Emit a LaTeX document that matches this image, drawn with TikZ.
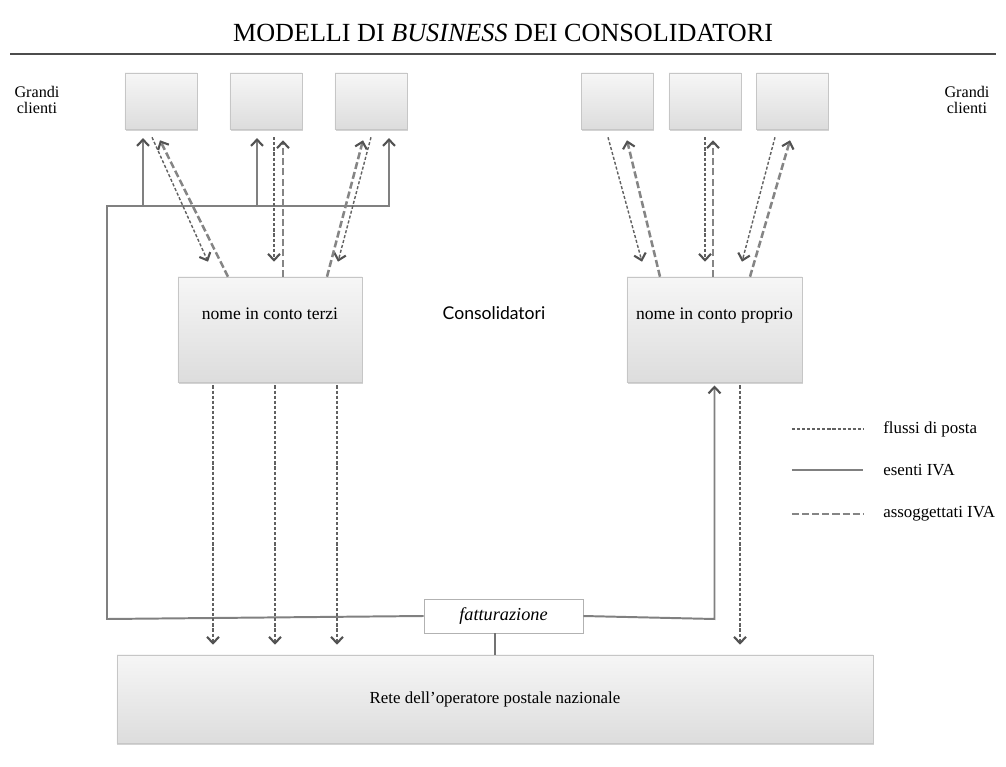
\documentclass[tikz,border=0pt]{standalone}
\usepackage{fontspec}
\setmainfont{Liberation Serif}
\setsansfont{Lato}
\usetikzlibrary{arrows.meta, positioning, calc, shadows}

\begin{document}
\begin{tikzpicture}[
  x=0.025cm, y=-0.025cm,
  client/.style={rectangle, draw=gray!45, top color=gray!7, bottom color=gray!27,
                 minimum width=1.8cm, minimum height=1.4cm, inner sep=0pt,
                 drop shadow={shadow xshift=0.4pt, shadow yshift=-1.2pt, opacity=0.35}},
  consbox/.style={client, minimum height=2.625cm},
  fattbox/.style={rectangle, draw=gray!60, fill=white, minimum width=3.975cm,
                  minimum height=0.85cm, font=\fontsize{13}{15}\selectfont\itshape},
  boxtext/.style={font=\fontsize{12.5}{15}\selectfont, anchor=base},
  sidetext/.style={font=\fontsize{11.5}{11}\selectfont, align=center},
  legtext/.style={font=\fontsize{12}{14}\selectfont, anchor=west, inner sep=0pt},
  flussi/.style={draw=black!62, line width=1pt, dash pattern=on 2.2pt off 1.4pt},
  esenti/.style={draw=black!50, line width=1.4pt},
  assog/.style={draw=black!48, line width=1.8pt, dash pattern=on 5pt off 2.2pt},
  arr/.style={-{Straight Barb[length=4.5pt,width=8.5pt,line width=1.5pt,color=black!68]}}
]
  \useasboundingbox (0,0) rectangle (1006,767);

  % title and rule
  \node[font=\fontsize{18.6}{20}\selectfont] (title) at (503,33)
    {MODELLI DI \textit{BUSINESS} DEI CONSOLIDATORI};
  \draw[black!70, line width=1.2pt] (10,54) -- (996,54);

  % clients
  \node[sidetext] (cleft) at (37,100) {Grandi\\clienti};
  \node[sidetext] (cright) at (967,100) {Grandi\\clienti};
  \node[client] (gl1) at (161,101) {};
  \node[client] (gl2) at (266,101) {};
  \node[client] (gl3) at (371,101) {};
  \node[client] (gr1) at (617.5,101) {};
  \node[client] (gr2) at (705,101) {};
  \node[client] (gr3) at (792.5,101) {};

  % consolidators
  \node[consbox, minimum width=4.6cm] (terzi) at (270,329.5) {};
  \node[boxtext] (terzitxt) at ($(terzi.north)+(0,43)$) {nome in conto terzi};
  \node[consbox, minimum width=4.375cm] (proprio) at (714.5,329.5) {};
  \node[boxtext] (propriotxt) at ($(proprio.north)+(0,43)$) {nome in conto proprio};
  \node[font=\sffamily\fontsize{12.5}{15}\selectfont, anchor=base] (cons) at (494,320) {Consolidatori};

  % postal network and billing
  \node[client, minimum width=18.9cm, minimum height=2.2cm, font=\fontsize{12}{14}\selectfont]
    (rete) at (495,699) {Rete dell'operatore postale nazionale};
  \node[fattbox] (fatt) at (503.5,616) {fatturazione};
  \draw[black!55, line width=0.9pt] (rete.north) -- (rete.north |- fatt.south);

  % esenti IVA
  \coordinate (lc) at (107,619);
  \coordinate (lb) at (107,206);
  \coordinate (b1) at (143,206);
  \coordinate (b2) at (257,206);
  \coordinate (b3) at (389,206);
  \draw[esenti, arr, shorten >=0.22cm] (fatt.west) -- (lc) -- (lb) -- (b3) -- (b3 |- gl3.south);
  \draw[esenti, arr, shorten >=0.22cm] (b1) -- (b1 |- gl1.south);
  \draw[esenti, arr, shorten >=0.22cm] (b2) -- (b2 |- gl2.south);
  \draw[esenti, arr, shorten >=0.08cm] (fatt.east) -- (proprio.south |- 0,619) -- (proprio.south);

  % flussi di posta / assoggettati IVA, left side
  \draw[flussi, arr] ($(gl1.south)+(-9,8)$) -- ($(terzi.north)+(-62,-15)$);
  \draw[assog, arr] ($(terzi.north)+(-42,0)$) -- ($(gl1.south)+(-1,11)$);
  \draw[flussi, arr] ($(gl2.south)+(8,8)$) -- ($(terzi.north)+(4,-15)$);
  \draw[assog, arr] ($(terzi.north)+(13,0)$) -- ($(gl2.south)+(17,11)$);
  \draw[flussi, arr] ($(gl3.south)+(0,8)$) -- ($(terzi.north)+(68,-15)$);
  \draw[assog, arr] ($(terzi.north)+(57,0)$) -- ($(gl3.south)+(-8,11)$);

  % flussi di posta / assoggettati IVA, right side
  \draw[flussi, arr] ($(gr1.south)+(-9.5,8)$) -- ($(proprio.north)+(-72.5,-15)$);
  \draw[assog, arr] ($(proprio.north)+(-54.5,0)$) -- ($(gr1.south)+(9.5,11)$);
  \draw[flussi, arr] ($(gr2.south)+(0,8)$) -- ($(proprio.north)+(-9.5,-15)$);
  \draw[assog, arr] ($(proprio.north)+(-1.5,0)$) -- ($(gr2.south)+(8,11)$);
  \draw[flussi, arr] ($(gr3.south)+(-17.5,8)$) -- ($(proprio.north)+(27.5,-15)$);
  \draw[assog, arr] ($(proprio.north)+(35.5,0)$) -- ($(gr3.south)+(-2.5,11)$);

  % mail down to the network
  \coordinate (d1) at ($(terzi.south)+(-57,0)$);
  \coordinate (d2) at ($(terzi.south)+(5,0)$);
  \coordinate (d3) at ($(terzi.south)+(67,0)$);
  \coordinate (d4) at ($(proprio.south)+(25.5,0)$);
  \draw[flussi, arr, shorten <=0.08cm, shorten >=0.25cm] (d1) -- (d1 |- rete.north);
  \draw[flussi, arr, shorten <=0.08cm, shorten >=0.25cm] (d2) -- (d2 |- rete.north);
  \draw[flussi, arr, shorten <=0.08cm, shorten >=0.25cm] (d3) -- (d3 |- rete.north);
  \draw[flussi, arr, shorten <=0.08cm, shorten >=0.25cm] (d4) -- (d4 |- rete.north);

  % legend
  \node[legtext] (lfl) at (883,429) {flussi di posta};
  \node[legtext] (les) at (883,470) {esenti IVA};
  \node[legtext] (las) at (883,514) {assoggettati IVA};
  \draw[flussi] ([xshift=-2.275cm]lfl.west) -- ++(71,0);
  \draw[esenti] ([xshift=-2.275cm]les.west) -- ++(71,0);
  \draw[assog] ([xshift=-2.275cm]las.west) -- ++(71,0);
\end{tikzpicture}
\end{document}
